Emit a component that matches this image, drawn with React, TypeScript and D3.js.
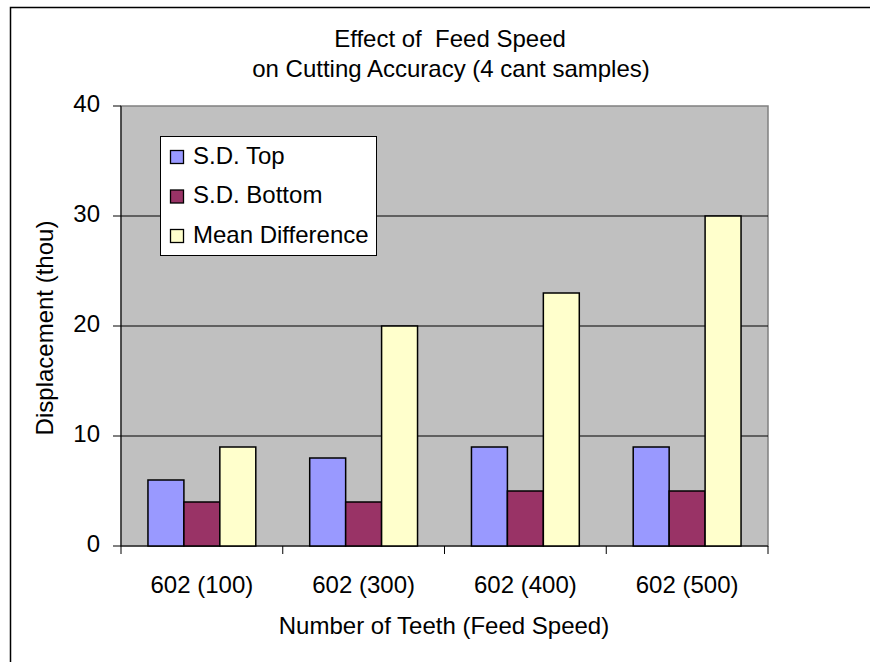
import React from "react";
import * as d3 from "d3";

const categories = ["602 (100)", "602 (300)", "602 (400)", "602 (500)"];
const seriesNames = ["S.D. Top", "S.D. Bottom", "Mean Difference"];
const sdTop = [6, 8, 9, 9];
const sdBottom = [4, 4, 5, 5];
const meanDiff = [9, 20, 23, 30];
const yTicks = [0, 10, 20, 30, 40];
const colors = ["#9999FF", "#993366", "#FFFFCC"];

export default function App() {
  const W = 870, H = 662;
  const left = 121, right = 768, top = 106, bottom = 546;
  const x = d3.scaleBand().domain(categories).range([left, right]).paddingInner(0).paddingOuter(0);
  const y = d3.scaleLinear().domain([0, 40]).range([bottom, top]);
  const series = [sdTop, sdBottom, meanDiff];
  const bw = x.bandwidth();
  const barW = bw / (3 + 1.5);
  const font = "'Liberation Sans', Arial, sans-serif";
  const fs = 24;
  return (
    <svg width={W} height={H} style={{ position: "absolute", left: 0, top: 0, background: "#fff" }} fontFamily={font}>
      <rect x={10.5} y={7.5} width={W} height={H} fill="#fff" stroke="#000" strokeWidth={1.5} />
      <text x={450} y={47} textAnchor="middle" fontSize={fs} style={{ whiteSpace: "pre" }}>{"Effect of  Feed Speed"}</text>
      <text x={451} y={77} textAnchor="middle" fontSize={fs}>on Cutting Accuracy (4 cant samples)</text>
      <rect x={left} y={top} width={right - left} height={bottom - top} fill="#C0C0C0" stroke="#808080" strokeWidth={1.5} />
      {yTicks.map((t) => (
        <g key={t}>
          {t > 0 && t < 40 && <line x1={left} x2={right} y1={y(t)} y2={y(t)} stroke="#000" strokeWidth={1} />}
          <line x1={113} x2={left} y1={y(t)} y2={y(t)} stroke="#000" strokeWidth={1} />
          <text x={100} y={y(t) + 6} textAnchor="end" fontSize={fs}>{t}</text>
        </g>
      ))}
      <line x1={left} x2={right} y1={bottom} y2={bottom} stroke="#000" strokeWidth={1} />
      <line x1={left} x2={left} y1={top} y2={bottom} stroke="#000" strokeWidth={1} />
      {categories.map((c, i) => (
        <line key={"t" + i} x1={x(c)!} x2={x(c)!} y1={bottom} y2={bottom + 8} stroke="#000" />
      ))}
      <line x1={right} x2={right} y1={bottom} y2={bottom + 8} stroke="#000" />
      {categories.map((c, i) => (
        <g key={c}>
          {series.map((s, j) => {
            const bx = x(c)! + barW * 0.75 + j * barW;
            return (
              <rect key={j} x={bx} y={y(s[i])} width={barW} height={bottom - y(s[i])}
                fill={colors[j]} stroke="#000" strokeWidth={1.5} />
            );
          })}
          <text x={x(c)! + bw / 2} y={593} textAnchor="middle" fontSize={fs}>{c}</text>
        </g>
      ))}
      <text x={444} y={634} textAnchor="middle" fontSize={fs}>Number of Teeth (Feed Speed)</text>
      <text transform="translate(53,328) rotate(-90)" textAnchor="middle" fontSize={fs}>Displacement (thou)</text>
      <rect x={160.5} y={136.5} width={216} height={119} fill="#fff" stroke="#000" strokeWidth={1} />
      {seriesNames.map((n, j) => (
        <g key={n}>
          <rect x={170.5} y={150.5 + j * 39.5} width={13} height={13} fill={colors[j]} stroke="#000" strokeWidth={1.3} />
          <text x={193} y={163.5 + j * 39.8} fontSize={fs}>{n}</text>
        </g>
      ))}
    </svg>
  );
}
